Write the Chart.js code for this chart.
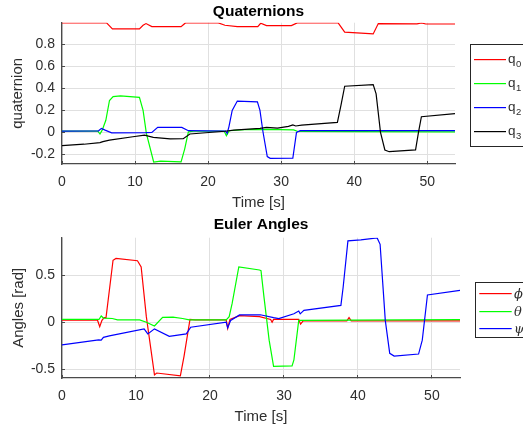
<!DOCTYPE html>
<html>
<head>
<meta charset="utf-8">
<script src="https://cdn.jsdelivr.net/npm/chart.js@4/dist/chart.umd.min.js"></script>
<style>
  html, body { margin: 0; padding: 0; background: #fff; }
  #fig { position: relative; width: 523px; height: 430px; overflow: hidden; background: #fff; }
  .pane { position: absolute; left: 0; width: 523px; height: 215px; }
</style>
</head>
<body>
<div id="fig">
  <div class="pane" style="top:0"><canvas id="quat" width="523" height="215"></canvas></div>
  <div class="pane" style="top:215px"><canvas id="euler" width="523" height="215"></canvas></div>
</div>
<script>
// ---- Quaternion components (time in s, value) ----
const q0Time = [0, 6.1, 6.9, 10.6, 11.1, 11.5, 12.3, 16.3, 16.9, 21.4, 22.3, 24.0, 26.8, 27.2, 28.0, 31.4, 32.2, 37.8, 38.7, 42.6, 43.3, 48.6, 49.2, 49.8, 53.8];
const q0Vals = [0.996, 0.996, 0.942, 0.942, 0.975, 0.99, 0.962, 0.962, 0.996, 0.996, 0.975, 0.962, 0.962, 0.993, 0.972, 0.972, 0.996, 0.996, 0.912, 0.896, 0.99, 0.988, 0.996, 0.986, 0.986];

const q1Time = [0, 4.9, 5.2, 5.5, 6.0, 6.5, 7.0, 8.0, 10.6, 11.1, 11.55, 12.55, 13.5, 16.3, 16.8, 17.3, 18.0, 22.2, 22.5, 22.9, 25.0, 28.0, 31.7, 32.3, 40.0, 53.8];
const q1Vals = [0.012, 0.012, -0.015, 0.02, 0.11, 0.29, 0.325, 0.332, 0.318, 0.2, -0.01, -0.27, -0.262, -0.268, -0.15, 0.005, 0.01, 0.012, -0.03, 0.015, 0.025, 0.028, 0.022, 0.008, 0.006, 0.005];

const q2Time = [0, 5.0, 5.4, 5.9, 6.8, 11.5, 12.3, 13.1, 16.4, 17.3, 22.4, 22.6, 22.85, 23.3, 24.0, 26.75, 27.1, 27.5, 28.1, 28.5, 31.6, 32.1, 32.6, 53.8];
const q2Vals = [0.012, 0.014, 0.036, 0.02, -0.004, -0.002, 0.0, 0.045, 0.045, 0.015, 0.012, -0.01, 0.05, 0.2, 0.285, 0.278, 0.2, 0.01, -0.22, -0.236, -0.234, 0.0, 0.015, 0.015];

const q3Time = [0, 3.0, 5.2, 5.6, 6.5, 9.7, 11.3, 12.5, 14.8, 16.6, 17.5, 22.3, 23.5, 27.1, 28.0, 29.5, 31.0, 31.6, 32.0, 32.8, 37.7, 38.2, 38.7, 42.6, 43.0, 43.6, 44.2, 44.8, 48.4, 48.8, 49.2, 53.8];
const q3Vals = [-0.12, -0.108, -0.094, -0.085, -0.07, -0.04, -0.025, -0.045, -0.06, -0.058, -0.015, 0.01, 0.02, 0.036, 0.045, 0.038, 0.055, 0.068, 0.058, 0.066, 0.09, 0.25, 0.42, 0.435, 0.35, 0.0, -0.16, -0.176, -0.16, 0.0, 0.142, 0.17];

// ---- Euler angles (time in s, rad) ----
const phiTime = [0, 4.8, 5.1, 5.4, 5.7, 5.95, 6.9, 7.3, 10.2, 10.7, 11.4, 12.5, 12.8, 16.0, 16.5, 17.3, 18.0, 22.2, 22.4, 22.7, 24.0, 26.7, 28.2, 28.4, 28.6, 32.0, 32.25, 32.6, 38.5, 38.8, 39.1, 53.8];
const phiVals = [0.022, 0.022, -0.046, 0.02, 0.05, 0.05, 0.66, 0.68, 0.655, 0.59, 0.06, -0.56, -0.54, -0.57, -0.36, 0.03, 0.025, 0.025, -0.064, 0.03, 0.07, 0.06, 0.03, 0.0, 0.03, 0.03, -0.02, 0.015, 0.015, 0.05, 0.015, 0.015];

const thetaTime = [0, 5.0, 5.3, 5.6, 6.8, 7.5, 10.5, 11.4, 12.5, 13.6, 15.0, 16.3, 17.2, 22.2, 22.6, 23.0, 23.9, 26.7, 26.9, 27.3, 28.0, 28.6, 31.1, 31.35, 32.0, 53.8];
const thetaVals = [0.03, 0.03, 0.067, 0.045, 0.04, 0.025, 0.025, 0.0, -0.04, 0.053, 0.055, 0.04, 0.025, 0.025, 0.06, 0.2, 0.59, 0.556, 0.55, 0.27, -0.19, -0.47, -0.465, -0.4, 0.02, 0.028];

const psiTime = [0, 4.95, 5.3, 5.6, 6.4, 11.1, 11.6, 12.5, 14.5, 16.8, 17.4, 22.2, 22.4, 22.8, 24.0, 26.8, 28.6, 29.3, 31.35, 32.0, 32.2, 32.7, 37.7, 38.0, 38.65, 40.4, 42.6, 43.0, 43.7, 44.3, 44.9, 48.2, 48.7, 49.4, 53.8];
const psiVals = [-0.24, -0.187, -0.19, -0.16, -0.145, -0.07, -0.124, -0.07, -0.15, -0.124, -0.053, 0.0, -0.06, 0.02, 0.078, 0.08, 0.05, 0.04, 0.09, 0.12, 0.09, 0.127, 0.18, 0.37, 0.866, 0.877, 0.898, 0.83, 0.02, -0.33, -0.36, -0.338, -0.19, 0.29, 0.34];

// ---- Axis settings ----
const timeRange = [0, 53.8];
const quatRange = [-0.288, 0.998];
const eulerRange = [-0.593, 0.9];

const SANS = '"Liberation Sans", Arial, Helvetica, sans-serif';
const AXIS_COLOR = '#4a4a4a';
const TEXT_COLOR = '#2e2e2e';
const GRID_COLOR = '#e0e0e0';

function series(t, v) { return t.map((x, i) => ({ x: x, y: v[i] })); }

function line(label, color, t, v, order) {
  return {
    label: label, data: series(t, v), borderColor: color, backgroundColor: color,
    borderWidth: 1.2, pointRadius: 0, tension: 0, fill: false, order: order
  };
}

// Boxed legend on the right with short coloured line samples
const boxedLegend = {
  id: 'boxedLegend',
  afterDraw(chart, args, o) {
    const ctx = chart.ctx;
    ctx.save();
    ctx.setLineDash([]);
    ctx.fillStyle = '#ffffff';
    ctx.fillRect(o.x, o.y, o.w, o.h);
    ctx.strokeStyle = '#262626';
    ctx.lineWidth = 1;
    ctx.strokeRect(Math.round(o.x) + 0.5, Math.round(o.y) + 0.5, o.w, Math.round(o.h));
    chart.data.datasets.forEach((ds, i) => {
      const y = Math.round(o.y + o.first + i * o.step);
      const meta = chart.getDatasetMeta(i);
      const color = (meta && meta.dataset && meta.dataset.options && meta.dataset.options.borderColor) || ds.borderColor;
      ctx.fillStyle = color;
      ctx.fillRect(o.x + o.lx0, y, o.lx1 - o.lx0, 1.2);
      ctx.fillStyle = TEXT_COLOR;
      ctx.textBaseline = 'alphabetic';
      ctx.textAlign = 'left';
      const main = ds.label.slice(0, 1);
      const sub = ds.label.slice(1);
      ctx.font = o.font;
      ctx.fillText(main, o.tx, y + o.base);
      if (sub) {
        const w = ctx.measureText(main).width;
        ctx.font = o.subFont;
        ctx.fillText(sub, o.tx + w + 0.5, y + o.subBase);
      }
    });
    ctx.restore();
  }
};

function makeOptions(cfg) {
  return {
    responsive: false,
    animation: false,
    events: [],
    layout: { padding: { left: 0, right: cfg.rightPad, top: 0, bottom: 0 } },
    plugins: {
      legend: { display: false },
      tooltip: { enabled: false },
      title: {
        display: true, text: cfg.title, fullSize: false, color: '#000',
        font: { family: SANS, size: 15.5, weight: 'bold', lineHeight: 1.2 },
        padding: { top: cfg.titleTop, bottom: cfg.titleBottom }
      },
      boxedLegend: cfg.legend
    },
    scales: {
      x: {
        type: 'linear', position: 'bottom', min: timeRange[0], max: timeRange[1],
        afterFit: (s) => { s.height = cfg.xHeight; },
        ticks: {
          stepSize: 10, includeBounds: false, autoSkip: false, maxRotation: 0,
          padding: 12.5, color: TEXT_COLOR, font: { family: SANS, size: 14 }
        },
        grid: { color: GRID_COLOR, lineWidth: 1, drawTicks: true, tickLength: -3, tickColor: AXIS_COLOR, tickWidth: 1 },
        border: { display: true, color: AXIS_COLOR, width: 1.3 },
        title: {
          display: true, text: 'Time [s]', color: TEXT_COLOR,
          font: { family: SANS, size: 15, lineHeight: 1.2 }, padding: { top: 0, bottom: cfg.xTitleBottom }
        }
      },
      y: {
        type: 'linear', position: 'left', min: cfg.yRange[0], max: cfg.yRange[1],
        afterFit: (s) => { s.width = 62; },
        ticks: {
          stepSize: cfg.yStep, includeBounds: false, autoSkip: false,
          padding: 10, color: TEXT_COLOR, font: { family: SANS, size: 14 }
        },
        grid: { color: GRID_COLOR, lineWidth: 1, drawTicks: true, tickLength: -3, tickColor: AXIS_COLOR, tickWidth: 1 },
        border: { display: true, color: AXIS_COLOR, width: 1.3 },
        title: {
          display: true, text: cfg.yTitle, color: TEXT_COLOR,
          font: { family: SANS, size: 15, lineHeight: 1.2 }, padding: { top: cfg.yTitleTop, bottom: 0 }
        }
      }
    }
  };
}

new Chart(document.getElementById('quat'), {
  type: 'line',
  data: {
    datasets: [
      line('q0', '#ff0000', q0Time, q0Vals, 4),
      line('q1', '#00ff00', q1Time, q1Vals, 3),
      line('q2', '#0000ff', q2Time, q2Vals, 2),
      line('q3', '#000000', q3Time, q3Vals, 1)
    ]
  },
  options: makeOptions({
    title: 'Quaternions', titleTop: 2, titleBottom: 2.1, rightPad: 68,
    xHeight: 51, xTitleBottom: 3, yRange: quatRange, yStep: 0.2,
    yTitle: 'quaternion', yTitleTop: 8.5,
    legend: {
      x: 470, y: 44, w: 70, h: 102, first: 15.3, step: 24, lx0: 4, lx1: 36,
      tx: 508, base: 4, subBase: 8.4,
      font: '13.5px ' + SANS, subFont: '9.5px ' + SANS
    }
  }),
  plugins: [boxedLegend]
});

new Chart(document.getElementById('euler'), {
  type: 'line',
  data: {
    datasets: [
      line('\u03D5', '#ff0000', phiTime, phiVals, 3),
      line('\u03B8', '#00ff00', thetaTime, thetaVals, 2),
      line('\u03C8', '#0000ff', psiTime, psiVals, 1)
    ]
  },
  options: makeOptions({
    title: 'Euler Angles', titleTop: 0, titleBottom: 4.1, rightPad: 63,
    xHeight: 52, xTitleBottom: 4, yRange: eulerRange, yStep: 0.5,
    yTitle: 'Angles [rad]', yTitleTop: 9.5,
    legend: {
      x: 475, y: 67.3, w: 70, h: 55.4, first: 11, step: 17.2, lx0: 4.3, lx1: 36.7,
      tx: 514, base: 4.5, subBase: 0,
      font: 'italic 13px "DejaVu Serif", "Liberation Serif", serif', subFont: '9px serif'
    }
  }),
  plugins: [boxedLegend]
});
</script>
</body>
</html>
